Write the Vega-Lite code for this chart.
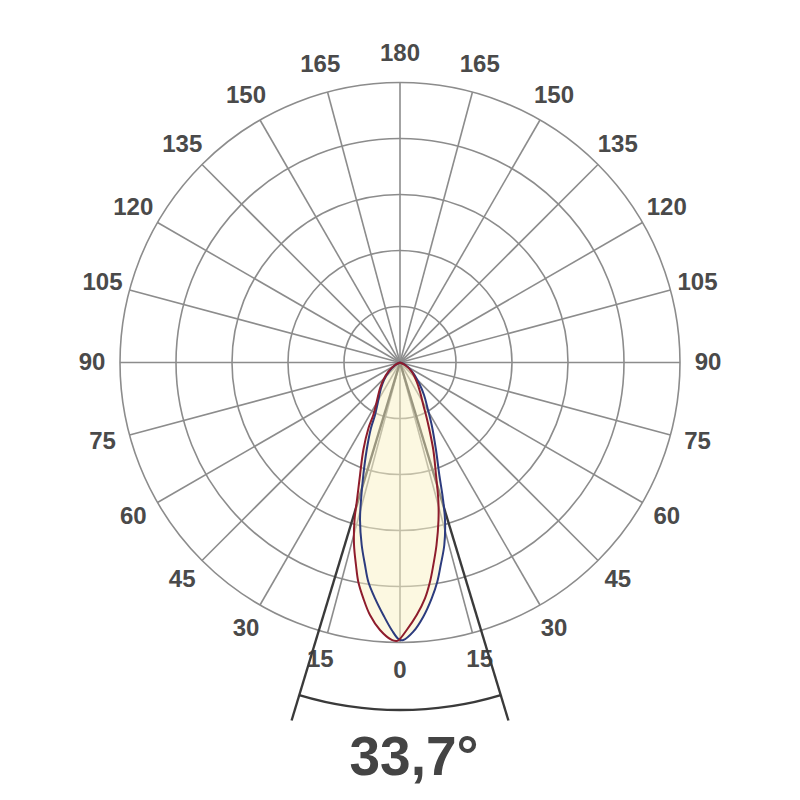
{
  "$schema": "https://vega.github.io/schema/vega-lite/v6.json",
  "width": 800,
  "height": 800,
  "padding": 0,
  "autosize": {"type": "none"},
  "background": "white",
  "config": {"view": {"stroke": null}},
  "datasets": {
    "circles": [{"r": 1}, {"r": 2}, {"r": 3}, {"r": 4}, {"r": 5}],
    "spokes": [
      {"x": 0, "y": -5, "x2": 0, "y2": 5},
      {"x": 1.2941, "y": -4.8296, "x2": -1.2941, "y2": 4.8296},
      {"x": 2.5, "y": -4.3301, "x2": -2.5, "y2": 4.3301},
      {"x": 3.5355, "y": -3.5355, "x2": -3.5355, "y2": 3.5355},
      {"x": 4.3301, "y": -2.5, "x2": -4.3301, "y2": 2.5},
      {"x": 4.8296, "y": -1.2941, "x2": -4.8296, "y2": 1.2941},
      {"x": 5, "y": 0, "x2": -5, "y2": 0},
      {"x": 4.8296, "y": 1.2941, "x2": -4.8296, "y2": -1.2941},
      {"x": 4.3301, "y": 2.5, "x2": -4.3301, "y2": -2.5},
      {"x": 3.5355, "y": 3.5355, "x2": -3.5355, "y2": -3.5355},
      {"x": 2.5, "y": 4.3301, "x2": -2.5, "y2": -4.3301},
      {"x": 1.2941, "y": 4.8296, "x2": -1.2941, "y2": -4.8296}
    ],
    "labels": [
      {"t": "0", "x": 0, "y": -5.5},
      {"t": "15", "x": 1.4235, "y": -5.3126},
      {"t": "30", "x": 2.75, "y": -4.7631},
      {"t": "45", "x": 3.8891, "y": -3.8891},
      {"t": "60", "x": 4.7631, "y": -2.75},
      {"t": "75", "x": 5.3126, "y": -1.4235},
      {"t": "90", "x": 5.5, "y": 0},
      {"t": "105", "x": 5.3126, "y": 1.4235},
      {"t": "120", "x": 4.7631, "y": 2.75},
      {"t": "135", "x": 3.8891, "y": 3.8891},
      {"t": "150", "x": 2.75, "y": 4.7631},
      {"t": "165", "x": 1.4235, "y": 5.3126},
      {"t": "180", "x": 0, "y": 5.5},
      {"t": "15", "x": -1.4235, "y": -5.3126},
      {"t": "30", "x": -2.75, "y": -4.7631},
      {"t": "45", "x": -3.8891, "y": -3.8891},
      {"t": "60", "x": -4.7631, "y": -2.75},
      {"t": "75", "x": -5.3126, "y": -1.4235},
      {"t": "90", "x": -5.5, "y": 0},
      {"t": "105", "x": -5.3126, "y": 1.4235},
      {"t": "120", "x": -4.7631, "y": 2.75},
      {"t": "135", "x": -3.8891, "y": 3.8891},
      {"t": "150", "x": -2.75, "y": 4.7631},
      {"t": "165", "x": -1.4235, "y": 5.3126}
    ],
    "beam": [
      {"x": 0, "y": 0, "x2": -1.936, "y2": -6.393},
      {"x": 0, "y": 0, "x2": 1.936, "y2": -6.393}
    ],
    "beamarc": [{"r": 6.205, "a0": 163.15, "a1": 196.85}],
    "title": [{"t": "33,7°", "x": 0.25, "y": -7.366}],
    "fill": [
      {"y": 0, "xl": 0, "xr": 0},
      {"y": -0.164, "xl": -0.209, "xr": 0.223},
      {"y": -0.3125, "xl": -0.298, "xr": 0.32},
      {"y": -0.461, "xl": -0.357, "xr": 0.39},
      {"y": -0.7, "xl": -0.416, "xr": 0.45},
      {"y": -0.9375, "xl": -0.477, "xr": 0.5},
      {"y": -1.17, "xl": -0.5625, "xr": 0.56},
      {"y": -1.5625, "xl": -0.655, "xr": 0.643},
      {"y": -2.009, "xl": -0.714, "xr": 0.702},
      {"y": -2.455, "xl": -0.768, "xr": 0.765},
      {"y": -2.8125, "xl": -0.8125, "xr": 0.804},
      {"y": -3.259, "xl": -0.821, "xr": 0.791},
      {"y": -3.616, "xl": -0.786, "xr": 0.727},
      {"y": -3.914, "xl": -0.745, "xr": 0.666},
      {"y": -4.211, "xl": -0.655, "xr": 0.566},
      {"y": -4.509, "xl": -0.536, "xr": 0.416},
      {"y": -4.777, "xl": -0.357, "xr": 0.25},
      {"y": -4.955, "xl": -0.148, "xr": 0.06},
      {"y": -4.973, "xl": -0.07, "xr": 0.0}
    ],
    "curves": [
      {"s": "C90 - C270", "i": 1, "x": 0, "y": 0},
      {"s": "C90 - C270", "i": 2, "x": -0.08, "y": -0.045},
      {"s": "C90 - C270", "i": 3, "x": -0.196, "y": -0.164},
      {"s": "C90 - C270", "i": 4, "x": -0.286, "y": -0.3125},
      {"s": "C90 - C270", "i": 5, "x": -0.339, "y": -0.461},
      {"s": "C90 - C270", "i": 6, "x": -0.393, "y": -0.7},
      {"s": "C90 - C270", "i": 7, "x": -0.446, "y": -0.9375},
      {"s": "C90 - C270", "i": 8, "x": -0.518, "y": -1.17},
      {"s": "C90 - C270", "i": 9, "x": -0.595, "y": -1.5625},
      {"s": "C90 - C270", "i": 10, "x": -0.655, "y": -2.009},
      {"s": "C90 - C270", "i": 11, "x": -0.696, "y": -2.455},
      {"s": "C90 - C270", "i": 12, "x": -0.714, "y": -2.8125},
      {"s": "C90 - C270", "i": 13, "x": -0.684, "y": -3.259},
      {"s": "C90 - C270", "i": 14, "x": -0.625, "y": -3.616},
      {"s": "C90 - C270", "i": 15, "x": -0.566, "y": -3.914},
      {"s": "C90 - C270", "i": 16, "x": -0.446, "y": -4.211},
      {"s": "C90 - C270", "i": 17, "x": -0.298, "y": -4.509},
      {"s": "C90 - C270", "i": 18, "x": -0.148, "y": -4.777},
      {"s": "C90 - C270", "i": 19, "x": -0.018, "y": -4.946},
      {"s": "C90 - C270", "i": 20, "x": 0.059, "y": -4.955},
      {"s": "C90 - C270", "i": 21, "x": 0.2375, "y": -4.807},
      {"s": "C90 - C270", "i": 22, "x": 0.416, "y": -4.539},
      {"s": "C90 - C270", "i": 23, "x": 0.566, "y": -4.211},
      {"s": "C90 - C270", "i": 24, "x": 0.666, "y": -3.914},
      {"s": "C90 - C270", "i": 25, "x": 0.727, "y": -3.616},
      {"s": "C90 - C270", "i": 26, "x": 0.791, "y": -3.259},
      {"s": "C90 - C270", "i": 27, "x": 0.804, "y": -2.8125},
      {"s": "C90 - C270", "i": 28, "x": 0.7625, "y": -2.402},
      {"s": "C90 - C270", "i": 29, "x": 0.702, "y": -2.009},
      {"s": "C90 - C270", "i": 30, "x": 0.643, "y": -1.5625},
      {"s": "C90 - C270", "i": 31, "x": 0.566, "y": -1.116},
      {"s": "C90 - C270", "i": 32, "x": 0.5, "y": -0.848},
      {"s": "C90 - C270", "i": 33, "x": 0.429, "y": -0.58},
      {"s": "C90 - C270", "i": 34, "x": 0.339, "y": -0.366},
      {"s": "C90 - C270", "i": 35, "x": 0.223, "y": -0.17},
      {"s": "C90 - C270", "i": 36, "x": 0.098, "y": -0.045},
      {"s": "C90 - C270", "i": 37, "x": 0, "y": 0},
      {"s": "C0 - C180", "i": 1, "x": 0, "y": 0},
      {"s": "C0 - C180", "i": 2, "x": -0.089, "y": -0.045},
      {"s": "C0 - C180", "i": 3, "x": -0.209, "y": -0.164},
      {"s": "C0 - C180", "i": 4, "x": -0.298, "y": -0.3125},
      {"s": "C0 - C180", "i": 5, "x": -0.357, "y": -0.461},
      {"s": "C0 - C180", "i": 6, "x": -0.416, "y": -0.7},
      {"s": "C0 - C180", "i": 7, "x": -0.477, "y": -0.9375},
      {"s": "C0 - C180", "i": 8, "x": -0.5625, "y": -1.17},
      {"s": "C0 - C180", "i": 9, "x": -0.655, "y": -1.5625},
      {"s": "C0 - C180", "i": 10, "x": -0.714, "y": -2.009},
      {"s": "C0 - C180", "i": 11, "x": -0.768, "y": -2.455},
      {"s": "C0 - C180", "i": 12, "x": -0.8125, "y": -2.8125},
      {"s": "C0 - C180", "i": 13, "x": -0.821, "y": -3.259},
      {"s": "C0 - C180", "i": 14, "x": -0.786, "y": -3.616},
      {"s": "C0 - C180", "i": 15, "x": -0.745, "y": -3.914},
      {"s": "C0 - C180", "i": 16, "x": -0.655, "y": -4.211},
      {"s": "C0 - C180", "i": 17, "x": -0.536, "y": -4.509},
      {"s": "C0 - C180", "i": 18, "x": -0.357, "y": -4.777},
      {"s": "C0 - C180", "i": 19, "x": -0.148, "y": -4.955},
      {"s": "C0 - C180", "i": 20, "x": -0.071, "y": -4.973},
      {"s": "C0 - C180", "i": 21, "x": -0.03, "y": -4.964},
      {"s": "C0 - C180", "i": 22, "x": 0.12, "y": -4.777},
      {"s": "C0 - C180", "i": 23, "x": 0.298, "y": -4.509},
      {"s": "C0 - C180", "i": 24, "x": 0.446, "y": -4.211},
      {"s": "C0 - C180", "i": 25, "x": 0.536, "y": -3.914},
      {"s": "C0 - C180", "i": 26, "x": 0.595, "y": -3.616},
      {"s": "C0 - C180", "i": 27, "x": 0.652, "y": -3.259},
      {"s": "C0 - C180", "i": 28, "x": 0.6875, "y": -2.8125},
      {"s": "C0 - C180", "i": 29, "x": 0.684, "y": -2.455},
      {"s": "C0 - C180", "i": 30, "x": 0.643, "y": -2.009},
      {"s": "C0 - C180", "i": 31, "x": 0.595, "y": -1.5625},
      {"s": "C0 - C180", "i": 32, "x": 0.518, "y": -1.17},
      {"s": "C0 - C180", "i": 33, "x": 0.477, "y": -0.991},
      {"s": "C0 - C180", "i": 34, "x": 0.416, "y": -0.759},
      {"s": "C0 - C180", "i": 35, "x": 0.357, "y": -0.521},
      {"s": "C0 - C180", "i": 36, "x": 0.298, "y": -0.343},
      {"s": "C0 - C180", "i": 37, "x": 0.209, "y": -0.164},
      {"s": "C0 - C180", "i": 38, "x": 0.089, "y": -0.045},
      {"s": "C0 - C180", "i": 39, "x": 0, "y": 0}
    ]
  },
  "layer": [
    {
      "data": {"name": "circles"},
      "mark": {"type": "arc", "filled": false, "stroke": "#8c8c8c", "strokeWidth": 1.6},
      "encoding": {
        "x": {"datum": 0, "type": "quantitative", "axis": null, "scale": {"domain": [-7.142857, 7.142857], "nice": false, "zero": false}},
        "y": {"datum": 0, "type": "quantitative", "axis": null, "scale": {"domain": [-7.8125, 6.473214], "nice": false, "zero": false}},
        "radius": {"field": "r", "type": "quantitative", "stack": null, "scale": {"type": "linear", "domain": [0, 7.142857], "range": [0, 400], "nice": false, "zero": true}},
        "theta": {"datum": 0, "type": "quantitative", "stack": null, "scale": {"domain": [0, 360], "range": [0, 6.2832], "nice": false, "zero": true}},
        "theta2": {"datum": 360}
      }
    },
    {
      "data": {"name": "spokes"},
      "mark": {"type": "rule", "stroke": "#8c8c8c", "strokeWidth": 1.6},
      "encoding": {
        "x": {"field": "x", "type": "quantitative", "axis": null},
        "y": {"field": "y", "type": "quantitative", "axis": null},
        "x2": {"field": "x2"},
        "y2": {"field": "y2"}
      }
    },
    {
      "data": {"name": "labels"},
      "mark": {"type": "text", "font": "Liberation Sans", "fontWeight": "bold", "fontSize": 24, "fill": "#4a4a4a", "align": "center", "baseline": "middle"},
      "encoding": {
        "x": {"field": "x", "type": "quantitative", "axis": null},
        "y": {"field": "y", "type": "quantitative", "axis": null},
        "text": {"field": "t", "type": "nominal"}
      }
    },
    {
      "data": {"name": "beam"},
      "mark": {"type": "rule", "stroke": "#3a3a3a", "strokeWidth": 2.4},
      "encoding": {
        "x": {"field": "x", "type": "quantitative", "axis": null},
        "y": {"field": "y", "type": "quantitative", "axis": null},
        "x2": {"field": "x2"},
        "y2": {"field": "y2"}
      }
    },
    {
      "data": {"name": "beamarc"},
      "mark": {"type": "arc", "filled": false, "stroke": "#3a3a3a", "strokeWidth": 2.4},
      "encoding": {
        "x": {"datum": 0, "type": "quantitative", "axis": null},
        "y": {"datum": 0, "type": "quantitative", "axis": null},
        "radius": {"field": "r", "type": "quantitative", "stack": null},
        "radius2": {"field": "r"},
        "theta": {"field": "a0", "type": "quantitative", "stack": null},
        "theta2": {"field": "a1"}
      }
    },
    {
      "data": {"name": "fill"},
      "mark": {"type": "area", "orient": "horizontal", "fill": "#faf2c4", "opacity": 0.5, "interpolate": "catmull-rom"},
      "encoding": {
        "y": {"field": "y", "type": "quantitative", "axis": null},
        "x": {"field": "xl", "type": "quantitative", "axis": null},
        "x2": {"field": "xr"}
      }
    },
    {
      "data": {"name": "curves"},
      "mark": {"type": "line", "strokeWidth": 2, "interpolate": "catmull-rom"},
      "encoding": {
        "x": {"field": "x", "type": "quantitative", "axis": null},
        "y": {"field": "y", "type": "quantitative", "axis": null},
        "order": {"field": "i", "type": "quantitative"},
        "color": {"field": "s", "type": "nominal", "legend": null, "scale": {"domain": ["C90 - C270", "C0 - C180"], "range": ["#2c3b7e", "#8e1c2c"]}}
      }
    },
    {
      "data": {"name": "title"},
      "mark": {"type": "text", "font": "Liberation Sans", "fontWeight": "bold", "fontSize": 55, "fill": "#444444", "align": "center", "baseline": "alphabetic"},
      "encoding": {
        "x": {"field": "x", "type": "quantitative", "axis": null},
        "y": {"field": "y", "type": "quantitative", "axis": null},
        "text": {"field": "t", "type": "nominal"}
      }
    }
  ]
}
